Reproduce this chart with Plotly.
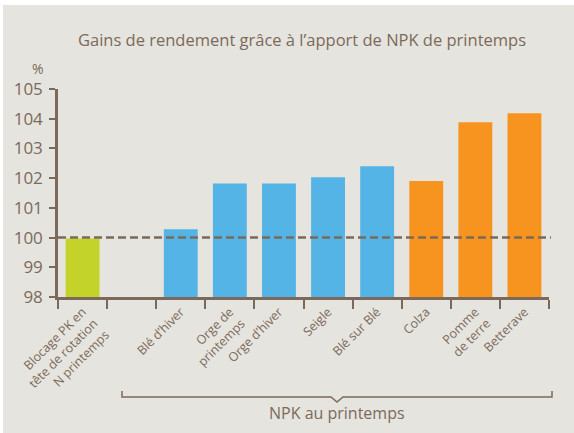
import plotly.graph_objects as go

categories = ["Blocage PK en<br>tête de rotation<br>N printemps", " ", "Blé d’hiver",
              "Orge de<br>printemps", "Orge d’hiver", "Seigle", "Blé sur Blé",
              "Colza", "Pomme<br>de terre", "Betterave"]
values = [99.97, None, 100.28, 101.82, 101.82, 102.03, 102.4, 101.9, 103.88, 104.18]
bar_colors = ["#C3D32A", "#55B4E6", "#55B4E6", "#55B4E6", "#55B4E6", "#55B4E6",
              "#55B4E6", "#F7941F", "#F7941F", "#F7941F"]
y_ticks = [98, 99, 100, 101, 102, 103, 104, 105]
reference_level = 100
title_text = "Gains de rendement grâce à l’apport de NPK de printemps"
group_label = "NPK au printemps"

W, H = 574, 433
L, R, T, B = 58, 549, 89, 297
BROWN = "#7B6A5B"
BG = "#E6E4DE"
FONT = "Open Sans"


def px(x):
    return (x - L) / (R - L)


def py(y):
    return (B - y) / (B - T)


fig = go.Figure(go.Bar(x=categories, y=values, marker=dict(color=bar_colors, line=dict(width=0)),
                       width=0.69, hoverinfo="x+y"))

# background with thin white border top/left
fig.add_shape(type="rect", xref="paper", yref="paper", x0=px(3), x1=px(W + 5), y0=py(5), y1=py(H + 5),
              fillcolor=BG, line=dict(width=0), layer="below")

# dashed reference line
fig.add_shape(type="line", xref="paper", yref="y", x0=0, x1=1.004, y0=reference_level, y1=reference_level,
              line=dict(color=BROWN, width=2.5, dash="8px,4px"), layer="above")

# bracket under NPK categories
xl, xr, xm = 122, 552, 337
yb, ye, yn = 397, 391, 402
path = (f"M {px(xl)} {py(ye)} L {px(xl)} {py(yb)} L {px(xm - 6)} {py(yb)} L {px(xm)} {py(yn)} "
        f"L {px(xm + 6)} {py(yb)} L {px(xr)} {py(yb)} L {px(xr)} {py(ye)}")
fig.add_shape(type="path", xref="paper", yref="paper", path=path,
              line=dict(color=BROWN, width=1.5))

fig.add_annotation(text=group_label, xref="paper", yref="paper", x=px(xm), y=py(413),
                   showarrow=False, font=dict(family=FONT, size=16, color=BROWN),
                   xanchor="center", yanchor="middle")
fig.add_annotation(text="%", xref="paper", yref="paper", x=px(38), y=py(69),
                   showarrow=False, font=dict(family=FONT, size=14, color=BROWN),
                   xanchor="center", yanchor="middle")

fig.update_layout(
    width=W, height=H,
    margin=dict(l=L, r=W - R, t=T, b=H - B, pad=0, autoexpand=False),
    paper_bgcolor="white", plot_bgcolor="rgba(0,0,0,0)",
    showlegend=False, bargap=0.31,
    title=dict(text=title_text, x=px(302), xref="paper", xanchor="center", y=1 - 40 / H, yanchor="middle",
               font=dict(family=FONT, size=16.5, color=BROWN)),
    font=dict(family=FONT, color=BROWN),
)
fig.update_yaxes(range=[98, 105], tickvals=y_ticks, showgrid=False, zeroline=False, automargin=False,
                 showline=True, linecolor=BROWN, linewidth=2.5, ticks="outside", ticklen=6,
                 tickwidth=2, tickcolor=BROWN, ticklabelstandoff=3,
                 tickfont=dict(family=FONT, size=17, color=BROWN))
fig.update_xaxes(range=[-0.5, 9.5], showgrid=False, showline=True, linecolor=BROWN, linewidth=2.5,
                 automargin=False,
                 ticks="outside", tickson="boundaries", ticklen=9, tickwidth=2, tickcolor=BROWN,
                 tickangle=-45, tickfont=dict(family=FONT, size=12.5, color=BROWN))

fig.write_html("out.html", config={"displayModeBar": False},
               post_script="document.body.style.margin='0';document.body.style.overflow='hidden';")
